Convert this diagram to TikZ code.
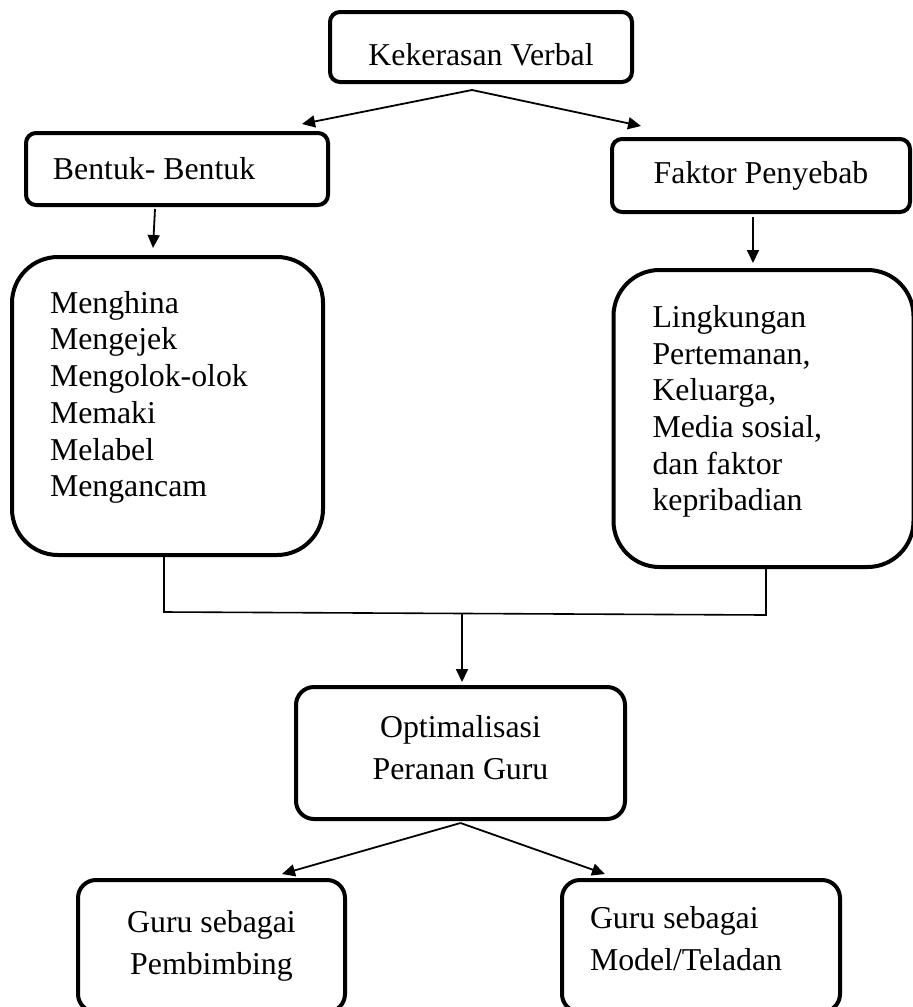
\documentclass[tikz,border=0pt]{standalone}
\usepackage{fontspec}
\setmainfont{Liberation Serif}
\usetikzlibrary{arrows.meta}
\newcommand{\upperfont}{\fontsize{15.9}{18.35}\selectfont}
\newcommand{\lowerfont}{\fontsize{15.9}{21.3}\selectfont}

\begin{document}
\begin{tikzpicture}[x=0.5pt,y=-0.5pt,>={Triangle[length=6.5pt,width=6pt]},
    every node/.style={shape=rectangle,draw,line width=2pt,rounded corners=5pt},
    upper/.style={font=\upperfont},
    lower/.style={font=\lowerfont,rounded corners=9pt,minimum height=66pt},
    bigbox/.style={upper,rounded corners=23pt,align=flush left},
    link/.style={line width=0.9pt},]
    \useasboundingbox (0,0) rectangle (912,1007);
	    % create the nodes
		    \node[upper,minimum width=151pt,minimum height=35pt,text height=19pt] (k1) at (481,47) {Kekerasan Verbal};
		    \node[upper,minimum height=36pt,text width=124pt,inner xsep=13.5pt,align=flush left] (b1) at (177,169) {Bentuk- Bentuk};
		    \node[upper,minimum width=149pt,minimum height=36.5pt] (f1) at (761,175.5) {Faktor Penyebab};
		    \node[bigbox,minimum height=149pt,text width=117.5pt,inner xsep=19pt,text depth=103.8pt] (b2) at (167.5,406) {Menghina\\Mengejek\\Mengolok-olok\\Memaki\\Melabel\\Mengancam}; %forms
		    \node[bigbox,minimum height=148.5pt,text width=111pt,inner xsep=19.5pt,text depth=102.2pt] (f2) at (763.5,418.5) {Lingkungan\\Pertemanan,\\Keluarga,\\Media sosial,\\dan faktor\\kepribadian}; %causes
		    \node[lower,minimum width=164.5pt,align=center,text depth=5.6pt] (o1) at (460.5,753) {Optimalisasi\\Peranan Guru};
		    \node[lower,minimum width=133.5pt,align=center] (g1) at (211.5,946) {Guru sebagai\\Pembimbing};
		    \node[lower,text width=111pt,inner xsep=14pt,align=flush left,text depth=28.9pt] (g2) at (701,946) {Guru sebagai\\Model/Teladan};
	    % joints of the merge line
		    \coordinate (jl) at (164,612);
		    \coordinate (jm) at (462,613);
		    \coordinate (jr) at (766,615);
	    % connect them
		    \draw[link,->] ([xshift=-4.5pt,yshift=-3pt]k1.south) -- ([xshift=-14pt,yshift=3.5pt]b1.north east);
		    \draw[link,->] ([xshift=-4.5pt,yshift=-3pt]k1.south) -- ([xshift=15.5pt,yshift=5.5pt]f1.north west);
		    \draw[link,->] ([xshift=-11pt,yshift=-1pt]b1.south) -- ([xshift=-7.25pt,yshift=3.5pt]b2.north);
		    \draw[link,->] ([xshift=-4pt,yshift=-1.5pt]f1.south) -- ([xshift=-5.25pt,yshift=2.5pt]f2.north);
		    \draw[line width=0.8pt] ([xshift=-1.75pt]b2.south) -- (jl) -- (jr) -- ([xshift=1.25pt]f2.south);
		    \draw[link,->] (jm) -- ([xshift=0.75pt,yshift=1.5pt]o1.north);
		    \draw[link,->] ([yshift=-1pt]o1.south) -- ([xshift=35.25pt,yshift=2pt]g1.north);
		    \draw[link,->] ([yshift=-1pt]o1.south) -- ([xshift=-48pt,yshift=2pt]g2.north);
		\end{tikzpicture}
\end{document}
